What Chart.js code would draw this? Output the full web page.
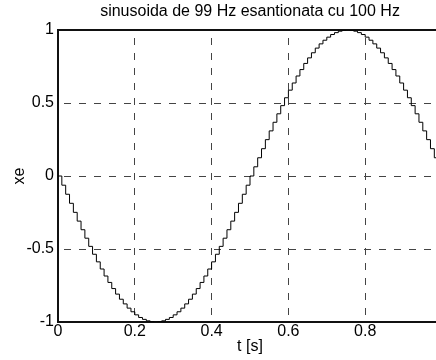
<!DOCTYPE html>
<html>
<head>
<meta charset="utf-8">
<script src="https://cdn.jsdelivr.net/npm/chart.js@4"></script>
<style>
  html, body { margin: 0; padding: 0; background: #fff; overflow: hidden; }
</style>
</head>
<body>
<canvas id="c" width="442" height="360"></canvas>
<script>
// sample times (s)
const times = [
  0.00, 0.01, 0.02, 0.03, 0.04, 0.05, 0.06, 0.07, 0.08, 0.09,
  0.10, 0.11, 0.12, 0.13, 0.14, 0.15, 0.16, 0.17, 0.18, 0.19,
  0.20, 0.21, 0.22, 0.23, 0.24, 0.25, 0.26, 0.27, 0.28, 0.29,
  0.30, 0.31, 0.32, 0.33, 0.34, 0.35, 0.36, 0.37, 0.38, 0.39,
  0.40, 0.41, 0.42, 0.43, 0.44, 0.45, 0.46, 0.47, 0.48, 0.49,
  0.50, 0.51, 0.52, 0.53, 0.54, 0.55, 0.56, 0.57, 0.58, 0.59,
  0.60, 0.61, 0.62, 0.63, 0.64, 0.65, 0.66, 0.67, 0.68, 0.69,
  0.70, 0.71, 0.72, 0.73, 0.74, 0.75, 0.76, 0.77, 0.78, 0.79,
  0.80, 0.81, 0.82, 0.83, 0.84, 0.85, 0.86, 0.87, 0.88, 0.89,
  0.90, 0.91, 0.92, 0.93, 0.94, 0.95, 0.96, 0.97, 0.98, 0.99
];

// sampled values xe
const xe = [
  0, -0.063, -0.125, -0.187, -0.249, -0.309, -0.368, -0.426, -0.482, -0.536,
  -0.588, -0.637, -0.685, -0.729, -0.771, -0.809, -0.844, -0.876, -0.905, -0.930,
  -0.951, -0.969, -0.982, -0.992, -0.998, -1, -0.998, -0.992, -0.982, -0.969,
  -0.951, -0.930, -0.905, -0.876, -0.844, -0.809, -0.771, -0.729, -0.685, -0.637,
  -0.588, -0.536, -0.482, -0.426, -0.368, -0.309, -0.249, -0.187, -0.125, -0.063,
  0, 0.063, 0.125, 0.187, 0.249, 0.309, 0.368, 0.426, 0.482, 0.536,
  0.588, 0.637, 0.685, 0.729, 0.771, 0.809, 0.844, 0.876, 0.905, 0.930,
  0.951, 0.969, 0.982, 0.992, 0.998, 1, 0.998, 0.992, 0.982, 0.969,
  0.951, 0.930, 0.905, 0.876, 0.844, 0.809, 0.771, 0.729, 0.685, 0.637,
  0.588, 0.536, 0.482, 0.426, 0.368, 0.309, 0.249, 0.187, 0.125, 0.063
];

const xTicks = [0, 0.2, 0.4, 0.6, 0.8];
const yTicks = [-1, -0.5, 0, 0.5, 1];

const titleText = 'sinusoida de 99 Hz esantionata cu 100 Hz';
const xLabel = 't [s]';
const yLabel = 'xe';

const font = { family: '"Liberation Sans", Arial, Helvetica, sans-serif', size: 16 };
const gridGray = '#444';

new Chart(document.getElementById('c'), {
  type: 'line',
  data: {
    datasets: [{
      data: times.map((t, i) => ({ x: t, y: xe[i] })),
      stepped: true,
      borderColor: '#000',
      borderWidth: 1,
      pointRadius: 0,
      fill: false
    }]
  },
  options: {
    responsive: false,
    devicePixelRatio: 1,
    animation: false,
    plugins: {
      legend: { display: false },
      tooltip: { enabled: false },
      title: { display: false }
    },
    scales: {
      x: {
        type: 'linear',
        position: 'bottom',
        min: 0,
        max: 1,
        afterBuildTicks: (s) => { s.ticks = xTicks.map(v => ({ value: v })); },
        afterFit: (s) => { s.height = 38; },
        grid: { color: gridGray, lineWidth: 1, drawTicks: false },
        border: { display: true, color: '#111', width: 2, dash: [7, 8], dashOffset: 7 },
        ticks: { color: '#000', font, padding: 0, maxRotation: 0, callback: (v) => String(v) },
        title: { display: true, text: xLabel, color: '#000', font, padding: { top: 0, bottom: 3.4 } }
      },
      top: {
        type: 'linear',
        position: 'top',
        min: 0,
        max: 1,
        afterFit: (s) => { s.height = 30; },
        grid: { display: true, drawOnChartArea: false, drawTicks: false },
        border: { display: true, color: '#111', width: 2 },
        ticks: { display: false },
        title: { display: true, text: titleText, color: '#000', font, padding: { top: 2.4, bottom: 0 } }
      },
      y: {
        type: 'linear',
        position: 'left',
        min: -1,
        max: 1,
        afterBuildTicks: (s) => { s.ticks = yTicks.map(v => ({ value: v })); },
        afterFit: (s) => { s.width = 58; },
        grid: { color: gridGray, lineWidth: 1, drawTicks: false },
        border: { display: true, color: '#111', width: 2, dash: [7, 8], dashOffset: 10 },
        ticks: { color: '#000', font, padding: 4, callback: (v) => String(v) },
        title: { display: true, text: yLabel, color: '#000', font, padding: { top: 10.4, bottom: 0 } }
      }
    }
  }
});
</script>
</body>
</html>
